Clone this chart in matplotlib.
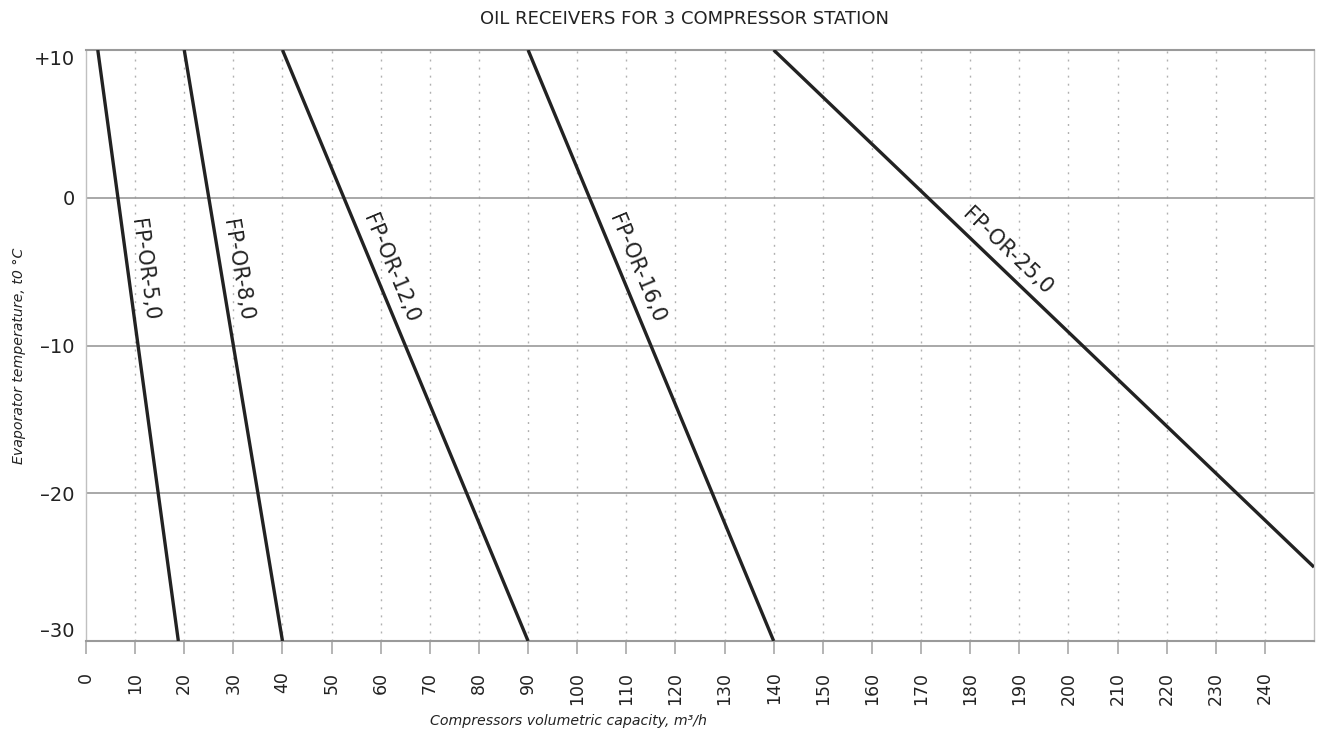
import numpy as np
import matplotlib
matplotlib.use("Agg")
import matplotlib.pyplot as plt

# ---- data ----
names = ["FP-OR-5,0", "FP-OR-8,0", "FP-OR-12,0", "FP-OR-16,0", "FP-OR-25,0"]
x_start = [2.4, 20, 40, 90, 140]
y_start = [10, 10, 10, 10, 10]
x_end = [18.8, 40, 90, 140, 250]
y_end = [-30, -30, -30, -30, -25]
label_y = [-5.0, -5.1, -5.2, -5.2, -4.4]

x_ticks = list(range(0, 250, 10))
y_ticks = [-30, -20, -10, 0, 10]
y_tick_labels = ["\u201330", "\u201320", "\u201310", "0", "+10"]

title = "OIL RECEIVERS FOR 3 COMPRESSOR STATION"
xlabel = "Compressors volumetric capacity, m\u00b3/h"
ylabel = "Evaporator temperature, t0 \u00b0C"

FONT = ["DejaVu Sans"]
GRAY = "#9a9a9a"
LINE = "#222222"

W, H = 1323, 739
fig = plt.figure(figsize=(W / 100, H / 100), dpi=100)
ax = fig.add_axes([86 / W, 1 - 641 / H, (1314 - 86) / W, (641 - 50) / H])
ax.set_xlim(0, 250)
ax.set_ylim(-30, 10)

# grid
for xv in x_ticks[1:]:
    ax.axvline(xv, color="#b0b0b0", lw=1.0, ls=(0, (1.4, 4.4)), zorder=1)
for yv in [-20, -10, 0]:
    ax.axhline(yv, color=GRAY, lw=1.2, zorder=1)

for s in ["top", "bottom"]:
    ax.spines[s].set_color(GRAY)
    ax.spines[s].set_linewidth(1.5)
for s in ["left", "right"]:
    ax.spines[s].set_color("#c0c0c0")
    ax.spines[s].set_linewidth(1.0)

# lines
for i in range(len(names)):
    ax.plot([x_start[i], x_end[i]], [y_start[i], y_end[i]], color=LINE,
            lw=2.4, solid_capstyle="butt", zorder=3)

# labels along lines
for i in range(len(names)):
    p0 = ax.transData.transform((x_start[i], y_start[i]))
    p1 = ax.transData.transform((x_end[i], y_end[i]))
    d = p1 - p0
    ang = np.degrees(np.arctan2(d[1], d[0]))
    n = np.array([-d[1], d[0]])
    n = n / np.hypot(*n)
    if n[0] < 0:
        n = -n
    t = (label_y[i] - y_start[i]) / (y_end[i] - y_start[i])
    xl = x_start[i] + t * (x_end[i] - x_start[i])
    off = 16 * n
    ax.annotate(names[i], xy=(xl, label_y[i]), xytext=(off[0], off[1]),
                textcoords="offset pixels", rotation=ang, rotation_mode="anchor",
                ha="center", va="center", fontsize=15, color=LINE,
                family=FONT, zorder=4)

# ticks
ax.set_xticks(x_ticks)
ax.set_xticklabels([str(v) for v in x_ticks], rotation=90, family=FONT,
                   fontsize=12.5, color="#222222")
ax.tick_params(axis="x", direction="out", length=9, width=1.2, color="#a8a8a8",
               pad=13)
ax.set_yticks(y_ticks)
ax.set_yticklabels(y_tick_labels, family=FONT, fontsize=14, color="#222222")
ax.tick_params(axis="y", length=0, pad=8)
ylabs = ax.get_yticklabels()
ylabs[0].set_va("bottom")
ylabs[-1].set_va("top")

fig.text(685 / W, 1 - 19 / H, title, ha="center", va="center", fontsize=13,
         family=FONT, color="#222222")
fig.text(569 / W, 1 - 721 / H, xlabel, ha="center", va="center", fontsize=10.2,
         family=FONT, style="italic", color="#222222")
fig.text(19 / W, 1 - 356 / H, ylabel, ha="center", va="center", fontsize=10.2,
         family=FONT, style="italic", rotation=90, color="#222222")

fig.savefig("out.png", dpi=100, facecolor="white")
